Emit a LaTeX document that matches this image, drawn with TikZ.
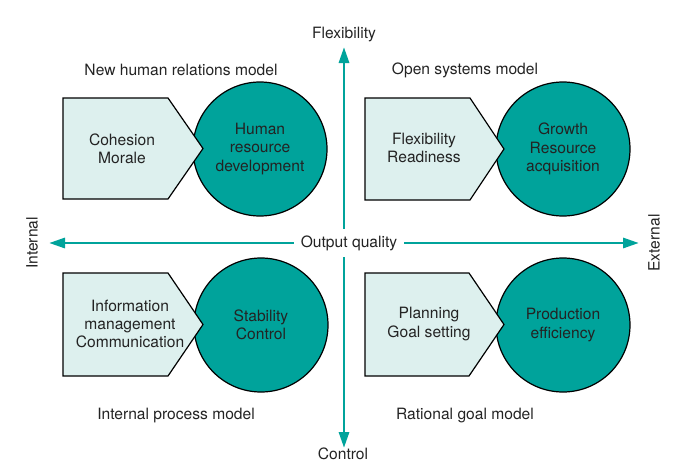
\documentclass[tikz,border=0pt]{standalone}
\usepackage{fontspec}
\setmainfont{TeX Gyre Heros}
\usetikzlibrary{arrows.meta}
\definecolor{tealc}{RGB}{0,163,155}
\definecolor{paleteal}{RGB}{221,240,238}
\definecolor{txt}{RGB}{35,35,35}
\begin{document}
\begin{tikzpicture}[x=0.75pt,y=-0.75pt,
  font=\fontsize{11.7}{13.6}\selectfont, text=txt,
  pent/.style={draw=black, fill=paleteal, line width=0.9pt, line join=miter},
  disc/.style={circle, draw=black, fill=tealc, line width=0.9pt, minimum size=100.5pt, inner sep=0pt, align=center},
  lbl/.style={align=center, inner sep=0pt},
  axis/.style={draw=tealc, line width=2.2pt, {Triangle[length=12pt,width=7.5pt]}-{Triangle[length=12pt,width=7.5pt]}},
]
\useasboundingbox (0,0) rectangle (700,472);

% axes
\coordinate (T) at (344,47);
\coordinate (B) at (344,448);
\coordinate (L) at (49,243);
\coordinate (R) at (639,243);
\draw[axis] (T) -- (B);
\draw[axis] (L) -- (R);
\node[fill=white, inner sep=5pt] (oq) at (349,243) {Output quality};

\node[lbl] (flex) at (344,35) {Flexibility};
\node[lbl] (ctrl) at (343,454) {Control};
\node[lbl, rotate=90] (int) at (32,243) {Internal};
\node[lbl, rotate=90] (ext) at (654,243) {External};

% quadrant titles
\node[lbl] (t1) at (181,70) {New human relations model};
\node[lbl] (t2) at (465,70) {Open systems model};
\node[lbl] (t3) at (176,416) {Internal process model};
\node[lbl] (t4) at (465,416) {Rational goal model};

% top-left
\node[disc] (c1) at (260,149) {Human\\resource\\development};
\path[pent] (63,98) -- (168,98) -- (203,148.5) -- (168,199) -- (63,199) -- cycle;
\node[lbl] (p1) at (122,149) {Cohesion\\Morale};

% top-right
\node[disc] (c2) at (563,149) {Growth\\Resource\\acquisition};
\path[pent] (365,98) -- (470,98) -- (504,149) -- (470,200) -- (365,200) -- cycle;
\node[lbl] (p2) at (424,148) {Flexibility\\Readiness};

% bottom-left
\node[disc] (c3) at (261,325) {Stability\\Control};
\path[pent] (63,273) -- (168,273) -- (203,324.5) -- (168,376) -- (63,376) -- cycle;
\node[lbl] (p3) at (130,324) {Information\\management\\Communication};

% bottom-right
\node[disc] (c4) at (563,325) {Production\\efficiency};
\path[pent] (365,273) -- (469,273) -- (504,324.5) -- (469,376) -- (365,376) -- cycle;
\node[lbl] (p4) at (429,324) {Planning\\Goal setting};
\end{tikzpicture}
\end{document}
